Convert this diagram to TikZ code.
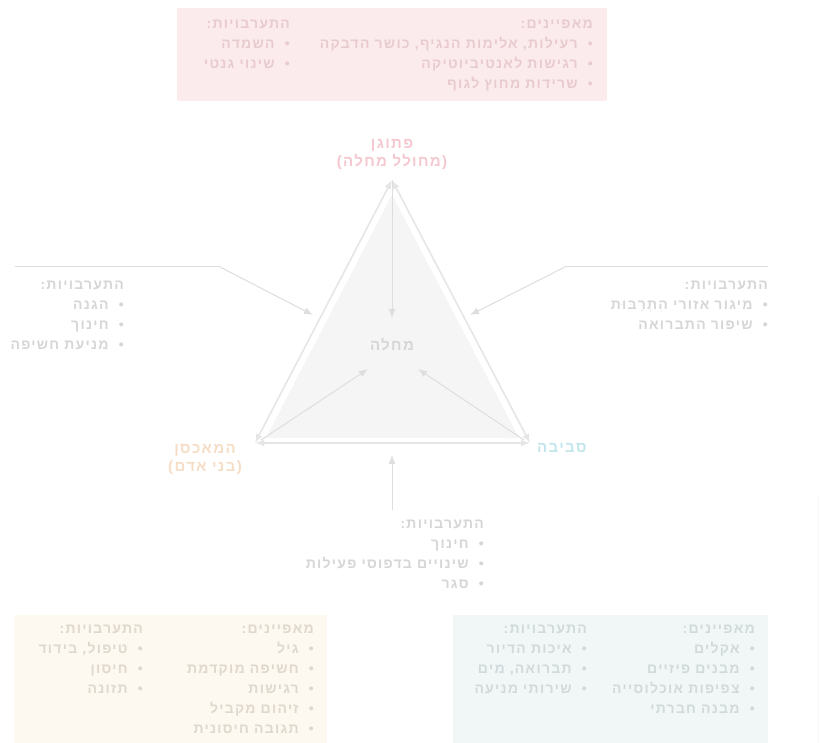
\documentclass[tikz,border=0pt]{standalone}
\usepackage{fontspec}
\setmainfont{Liberation Sans}
\newfontfamily\heb[Script=Hebrew,LetterSpace=9]{Liberation Sans}
\TeXXeTstate=1
\usetikzlibrary{arrows.meta}
\newcommand\hr[1]{\beginR #1\endR}
\definecolor{txt}{HTML}{D6D6D6}
\definecolor{pinkbox}{HTML}{FCEBEC}
\definecolor{pinktxt}{HTML}{E8CBCE}
\definecolor{pinklab}{HTML}{F5C8D0}
\definecolor{creambox}{HTML}{FDF8F0}
\definecolor{creamtxt}{HTML}{DFD8CD}
\definecolor{creamlab}{HTML}{F6DEC6}
\definecolor{tealbox}{HTML}{F1F7F7}
\definecolor{tealtxt}{HTML}{D1D9DA}
\definecolor{teallab}{HTML}{C2E6EA}
\definecolor{trifill}{HTML}{F5F5F5}
\definecolor{triedge}{HTML}{E6E6E6}
\definecolor{arr}{HTML}{DEDEDE}
\tikzset{
  htext/.style={font=\heb\bfseries\fontsize{14}{20}\selectfont, align=right, inner sep=0pt, anchor=north east},
  lab/.style={font=\heb\bfseries\fontsize{15}{17}\selectfont, align=center, inner sep=0pt},
  conn/.style={draw=arr, line width=1pt, -{Latex[length=9pt,width=7pt]}},
  edge2/.style={draw=triedge, line width=1.6pt, {Latex[length=9pt,width=7pt]}-{Latex[length=9pt,width=7pt]}},
}
\begin{document}
\begin{tikzpicture}[x=1pt,y=-1pt]
\useasboundingbox (0,0) rectangle (820,743);
\fill[white] (0,0) rectangle (820,743);
% boxes
\fill[pinkbox] (177,8) rectangle (607,101);
\fill[creambox] (14,615) rectangle (327,743);
\fill[tealbox] (453,615) rectangle (768,743);
\draw[draw=tealbox!70!white, line width=1pt] (818,495) -- (818,743);
% triangle
\coordinate (P) at (392,180);
\coordinate (H) at (255,443);
\coordinate (E) at (530,443);
\fill[trifill] (392,195) -- (266,438) -- (519,438) -- cycle;
\draw[edge2] (P) -- (H);
\draw[edge2] (P) -- (E);
\draw[edge2] (H) -- (E);
\node[lab, text=txt] (D) at (392,345) {\hr{מחלה}};
\coordinate (Dt) at (392,318);
\coordinate (Dl) at (368,369);
\coordinate (Dr) at (418,369);
\draw[conn] (P) -- (Dt);
\draw[conn] ([shift={(6,-3)}]H) -- (Dl);
\draw[conn] ([shift={(-6,-3)}]E) -- (Dr);
% vertex labels
\node[lab, text=pinklab] (pl) at (392,155) {\hr{פתוגן}\\[1pt]\hr{(מחולל מחלה)}};
\node[lab, text=creamlab] (hl) at (205,459) {\hr{המאכסן}\\[1pt]\hr{(בני אדם)}};
\node[lab, text=teallab, anchor=west] (el) at (537,448) {\hr{סביבה}};
% top box text
\node[htext, text=pinktxt] (tc) at (593,20) {\hr{מאפיינים:}\\\hr{•\ \ רעילות, אלימות הנגיף, כושר הדבקה}\\\hr{•\ \ רגישות לאנטיביוטיקה}\\\hr{•\ \ שרידות מחוץ לגוף}};
\node[htext, text=pinktxt] (ti) at (290,20) {\hr{התערבויות:}\\\hr{•\ \ השמדה}\\\hr{•\ \ שינוי גנטי}};
% left interventions
\node[htext, text=txt] (li) at (124,281) {\hr{התערבויות:}\\\hr{•\ \ הגנה}\\\hr{•\ \ חינוך}\\\hr{•\ \ מניעת חשיפה}};
\coordinate (l0) at (15,267);
\coordinate (l1) at (220,267);
\coordinate (l2) at (313,315);
\draw[draw=arr, line width=1pt] (l0) -- (l1);
\draw[conn] (l1) -- (l2);
% right interventions
\node[htext, text=txt] (ri) at (768,281) {\hr{התערבויות:}\\\hr{•\ \ מיגור אזורי הִתְרַבּוּת}\\\hr{•\ \ שיפור התברואה}};
\coordinate (r0) at (768,267);
\coordinate (r1) at (565,267);
\coordinate (r2) at (470,315);
\draw[draw=arr, line width=1pt] (r0) -- (r1);
\draw[conn] (r1) -- (r2);
% bottom interventions
\node[htext, text=txt] (bi) at (484,520) {\hr{התערבויות:}\\\hr{•\ \ חינוך}\\\hr{•\ \ שינויים בדפוסי פעילות}\\\hr{•\ \ סגר}};
\coordinate (b0) at (392,510);
\coordinate (b1) at (392,455);
\draw[conn] (b0) -- (b1);
% bottom-left box text
\node[htext, text=creamtxt] (hc) at (314,625) {\hr{מאפיינים:}\\\hr{•\ \ גיל}\\\hr{•\ \ חשיפה מוקדמת}\\\hr{•\ \ רגישות}\\\hr{•\ \ זיהום מקביל}\\\hr{•\ \ תגובה חיסונית}};
\node[htext, text=creamtxt] (hi) at (143,625) {\hr{התערבויות:}\\\hr{•\ \ טיפול, בידוד}\\\hr{•\ \ חיסון}\\\hr{•\ \ תזונה}};
% bottom-right box text
\node[htext, text=tealtxt] (ec) at (755,625) {\hr{מאפיינים:}\\\hr{•\ \ אקלים}\\\hr{•\ \ מבנים פיזיים}\\\hr{•\ \ צפיפות אוכלוסייה}\\\hr{•\ \ מבנה חברתי}};
\node[htext, text=tealtxt] (ei) at (587,625) {\hr{התערבויות:}\\\hr{•\ \ איכות הדיור}\\\hr{•\ \ תברואה, מים}\\\hr{•\ \ שירותי מניעה}};
\end{tikzpicture}
\end{document}
